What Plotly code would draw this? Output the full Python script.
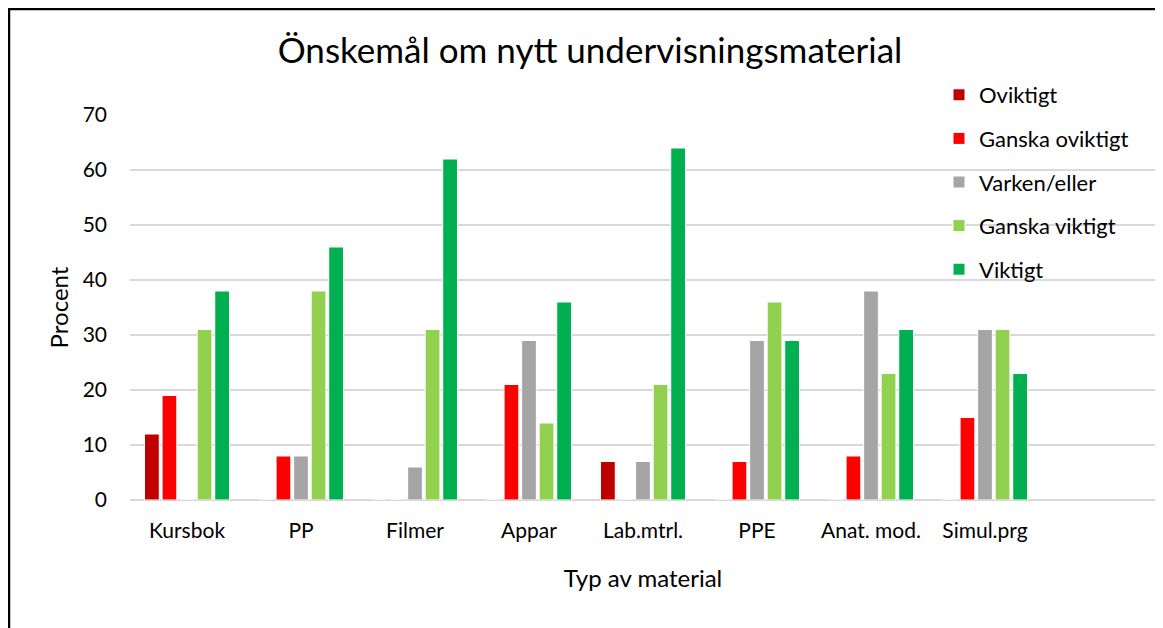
import plotly.graph_objects as go

# Kategorier och serier (procent)
kategorier = ["Kursbok", "PP", "Filmer", "Appar", "Lab.mtrl.", "PPE", "Anat. mod.", "Simul.prg"]
serier = ["Oviktigt", "Ganska oviktigt", "Varken/eller", "Ganska viktigt", "Viktigt"]
oviktigt = [12, 0, 0, 0, 7, 0, 0, 0]
ganska_oviktigt = [19, 8, 0, 21, 0, 7, 8, 15]
varken_eller = [0, 8, 6, 29, 7, 29, 38, 31]
ganska_viktigt = [31, 38, 31, 14, 21, 36, 23, 31]
viktigt = [38, 46, 62, 36, 64, 29, 31, 23]
y_ticks = [0, 10, 20, 30, 40, 50, 60, 70]

farger = ["#C00000", "#FF0000", "#A5A5A5", "#92D050", "#00B050"]
varden = [oviktigt, ganska_oviktigt, varken_eller, ganska_viktigt, viktigt]

FONT = "Lato, 'Open Sans', sans-serif"

fig = go.Figure()
for namn, vals, farg in zip(serier, varden, farger):
    fig.add_trace(go.Bar(
        x=kategorier, y=vals, name=namn, legendgroup=namn,
        marker=dict(color=farg, line=dict(color="white", width=1)),
    ))

# sidan har 8 px marginal i body, saa figuren flyttas 8 px
OFF = 8
W, H = 1163 - OFF, 628 - OFF
# plotytan i sidans pixlar: x 130..1156, y 115..500
L, R, T, B = 130 - OFF, 1163 - 1156, 115 - OFF, 628 - 500
pw, ph = W - L - R, H - T - B

def px_x(p):
    # sidans pixel -> paper
    return (p - OFF - L) / pw

def px_y(p):
    return (H - B - (p - OFF)) / ph

fig.update_layout(
    width=W, height=H,
    margin=dict(l=L, r=R, t=T, b=B, autoexpand=False),
    paper_bgcolor="white", plot_bgcolor="white",
    font=dict(family=FONT, size=21, color="#000000"),
    title=dict(text="Önskemål om nytt undervisningsmaterial",
               x=(590 - OFF) / W, xanchor="center", xref="container",
               y=1 - (51 - OFF) / H, yanchor="middle",
               font=dict(size=35, family=FONT, color="#000000")),
    barmode="group", bargap=0.23, bargroupgap=0.16,
    legend=dict(x=px_x(939), xanchor="left", y=px_y(74), yanchor="top",
                bgcolor="rgba(0,0,0,0)", tracegroupgap=12,
                font=dict(size=22, family=FONT)),
    xaxis=dict(categoryorder="array", categoryarray=kategorier,
               range=[-0.5, 8.5], showgrid=False, zeroline=False,
               showline=False, ticks="", ticklabelstandoff=16,
               automargin=False,
               title=dict(text="Typ av material", standoff=29,
                          font=dict(size=24))),
    yaxis=dict(range=[0, 70], tickvals=y_ticks, showgrid=True,
               gridcolor="#D9D9D9", gridwidth=1.5, zeroline=True,
               zerolinecolor="#D9D9D9", zerolinewidth=1.5,
               showline=False, ticks="", ticklabelstandoff=22,
               automargin=False,
               title=dict(text="Procent", standoff=7,
                          font=dict(size=24))),
    shapes=[dict(type="rect", xref="paper", yref="paper",
                 x0=px_x(9), x1=px_x(1190), y0=px_y(660), y1=px_y(9),
                 line=dict(color="#000000", width=2.5), layer="below")],
)

fig.write_html("out.html")
